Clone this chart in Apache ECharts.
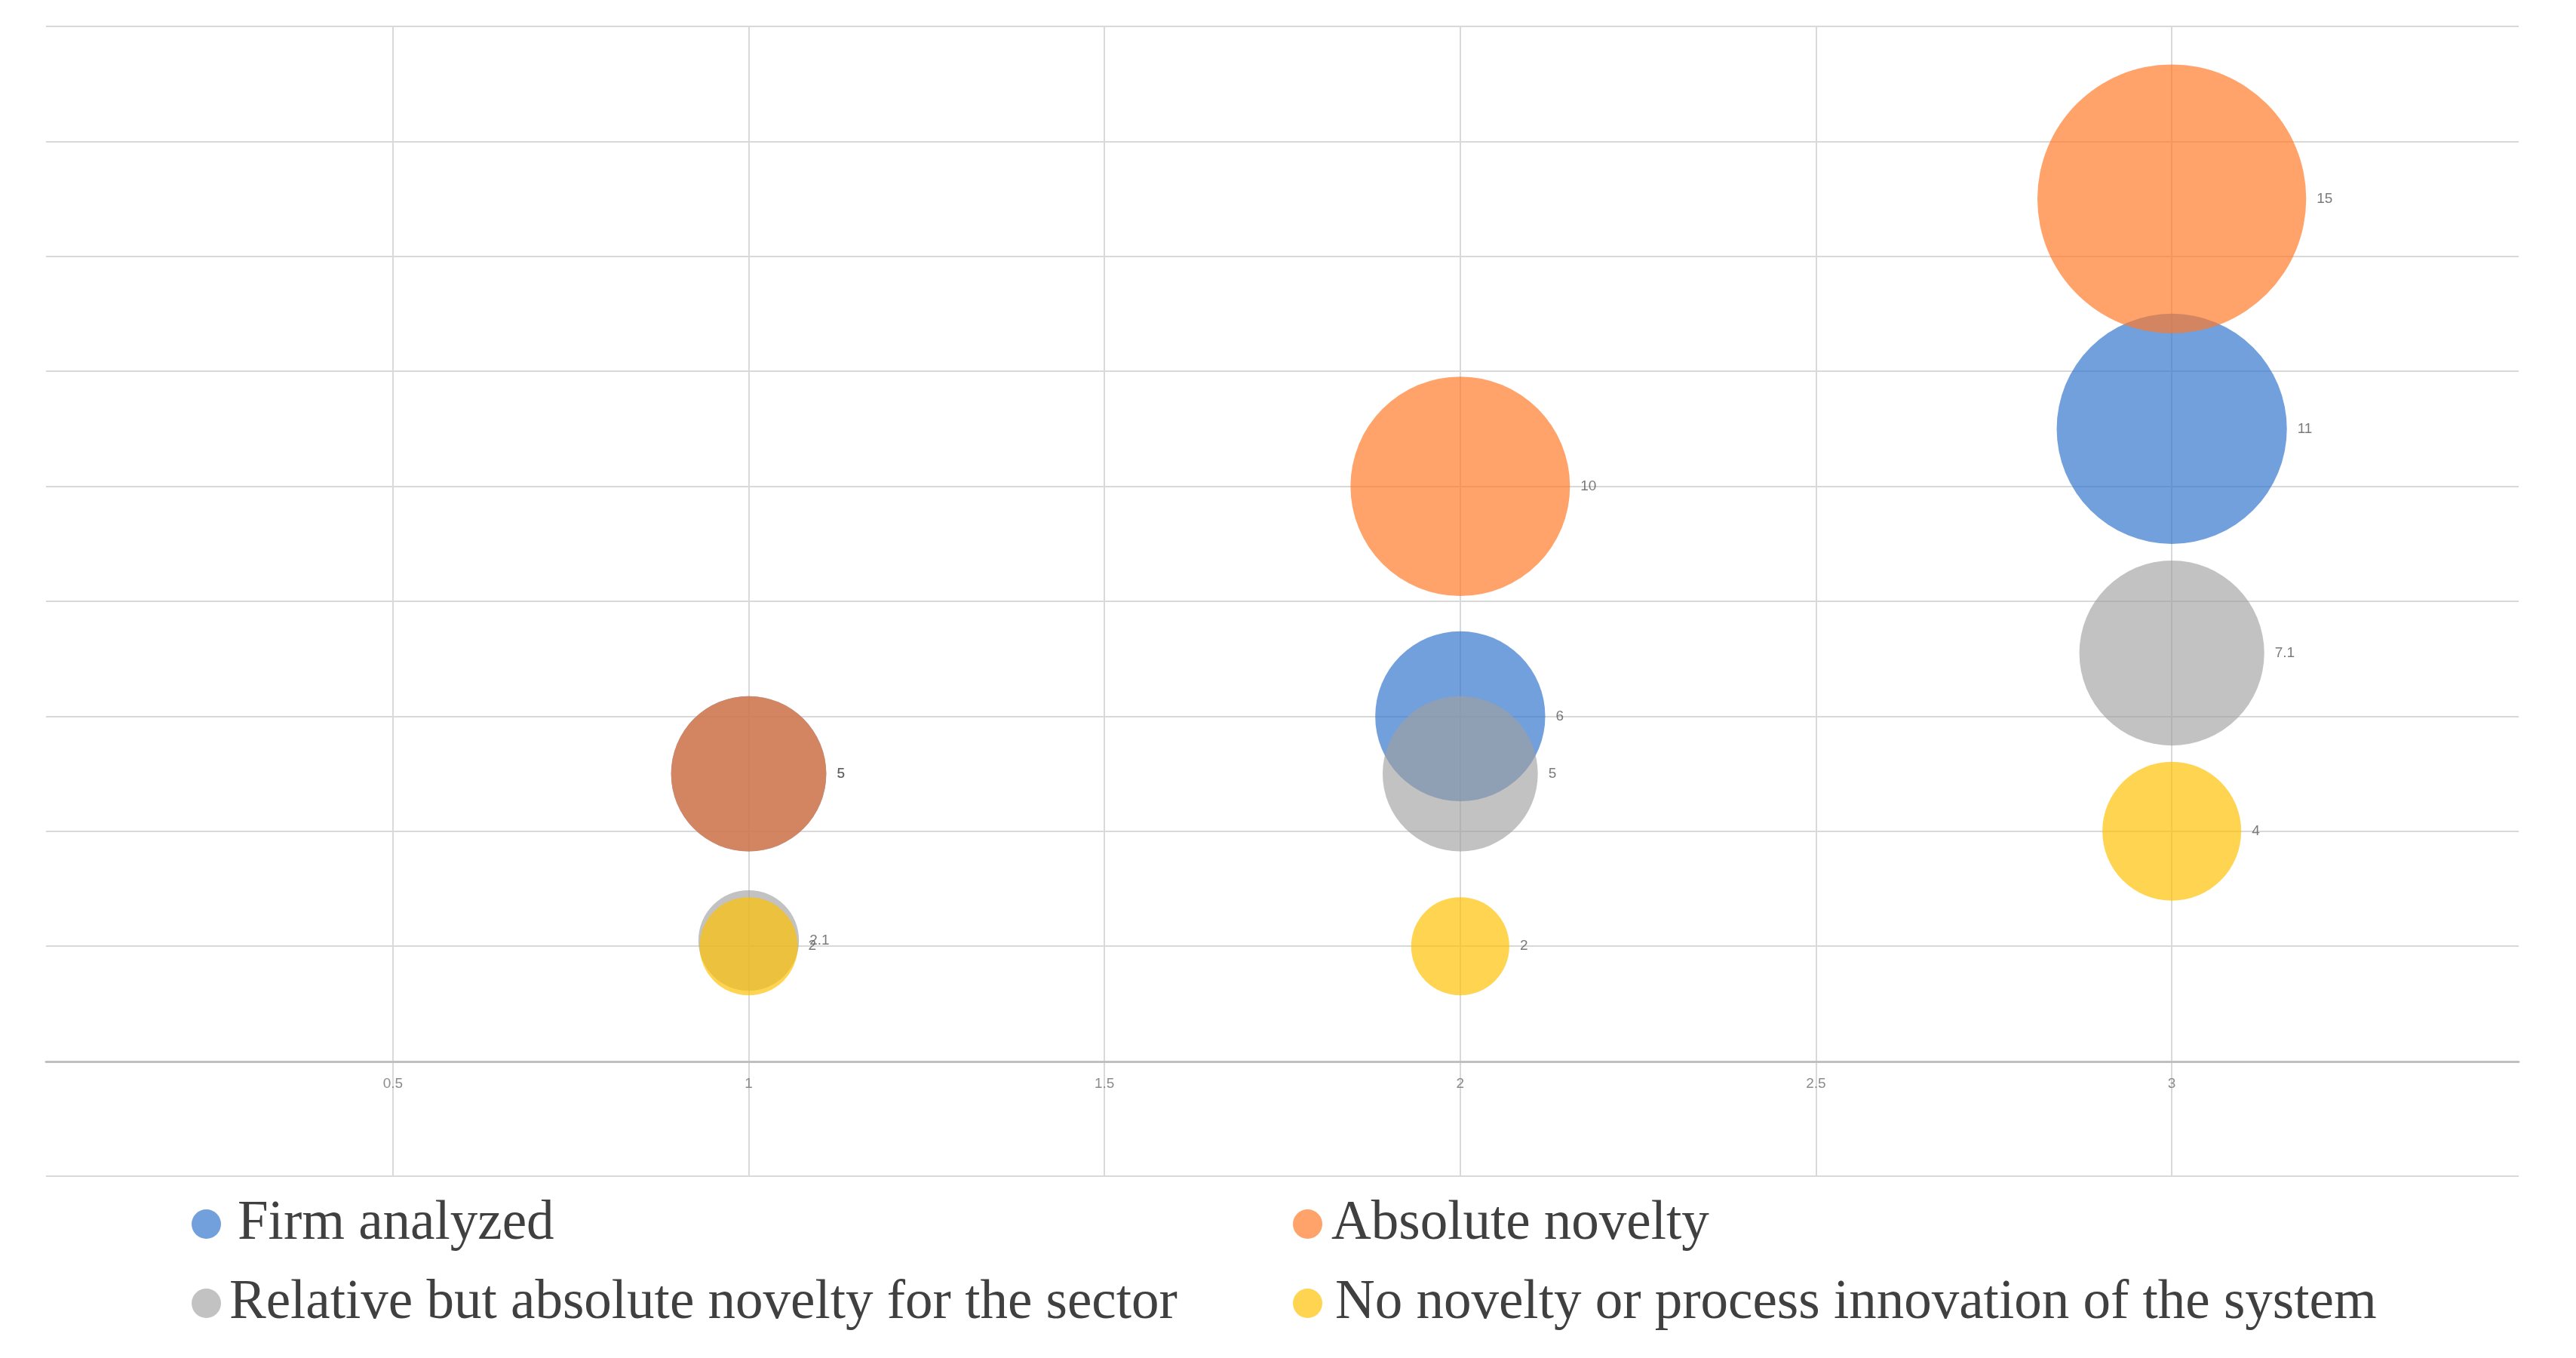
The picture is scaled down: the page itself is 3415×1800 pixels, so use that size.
<!DOCTYPE html>
<html>
<head>
  <meta charset="UTF-8">
  <title>Bubble chart - novelty</title>
  <script src="https://cdn.jsdelivr.net/npm/echarts@6/dist/echarts.min.js"></script>
  <style>
    html, body { margin: 0; padding: 0; background: #fff; }
  </style>
</head>
<body>
  <div id="main" style="width: 3415px; height: 1800px;"></div>

  <script>
    const xValues = [1, 2, 3];

    const seriesNames = [
      'Firm analyzed',
      'Absolute novelty',
      'Relative but absolute novelty for the sector',
      'No novelty or process innovation of the system'
    ];

    // y position and bubble size are the same numbers in the source chart
    const firmAnalyzed = [5, 6, 11];
    const absoluteNovelty = [5, 10, 15];
    const relativeNovelty = [2.1, 5, 7.1];
    const noNovelty = [2, 2, 4];

    const colors = [
      'rgba(48,116,203,0.85)',
      'rgba(255,120,38,0.85)',
      'rgba(160,160,160,0.8)',
      'rgba(255,192,0,0.85)'
    ];

    const allValues = [firmAnalyzed, absoluteNovelty, relativeNovelty, noNovelty];

    const series = seriesNames.map((name, i) => ({
      name,
      type: 'scatter',
      data: allValues[i].map((v, k) => [xValues[k], v, v]),
      symbolSize: (val) => Math.sqrt(val[2]) * 92,
      itemStyle: { color: colors[i] },
      label: {
        show: true,
        position: 'right',
        distance: 14,
        formatter: (p) => String(p.value[2]),
        fontFamily: 'Liberation Sans',
        fontSize: 19,
        color: '#595959'
      },
      emphasis: { disabled: true }
    }));

    // one legend block per entry, placed like the two-column layout of the source
    const legendSpots = [
      { left: 254, top: 1586, gap: 17 },
      { left: 1714, top: 1586, gap: 7 },
      { left: 254, top: 1691, gap: 6 },
      { left: 1714, top: 1691, gap: 12 }
    ];

    const legends = seriesNames.map((name, i) => ({
      data: [name],
      left: legendSpots[i].left,
      top: legendSpots[i].top,
      padding: 0,
      icon: 'circle',
      itemWidth: 39,
      itemHeight: 39,
      selectedMode: false,
      textStyle: {
        fontFamily: 'Liberation Serif',
        fontSize: 73,
        lineHeight: 72,
        color: '#404040',
        padding: [0, 0, 0, legendSpots[i].gap]
      }
    }));

    const option = {
      backgroundColor: '#ffffff',
      animation: false,
      legend: legends,
      grid: {
        left: 61,
        right: 76,
        top: 35,
        bottom: 241,
        containLabel: false
      },
      xAxis: {
        type: 'value',
        min: 0.0125,
        max: 3.4875,
        splitNumber: 7,
        offset: -152,
        axisLine: {
          show: true,
          onZero: false,
          lineStyle: { color: '#bfbfbf', width: 3 }
        },
        axisTick: { show: false },
        axisLabel: {
          showMinLabel: false,
          showMaxLabel: false,
          margin: 20,
          fontFamily: 'Liberation Sans',
          fontSize: 19,
          color: '#8c8c8c'
        },
        splitLine: {
          show: true,
          showMinLine: false,
          showMaxLine: false,
          lineStyle: { color: '#d9d9d9', width: 2 }
        }
      },
      yAxis: {
        type: 'value',
        min: -2,
        max: 18,
        interval: 2,
        axisLine: { show: false },
        axisTick: { show: false },
        axisLabel: { show: false },
        splitLine: {
          show: true,
          lineStyle: { color: '#d9d9d9', width: 2 }
        }
      },
      series
    };

    const chart = echarts.init(document.getElementById('main'));
    chart.setOption(option);
  </script>
</body>
</html>
